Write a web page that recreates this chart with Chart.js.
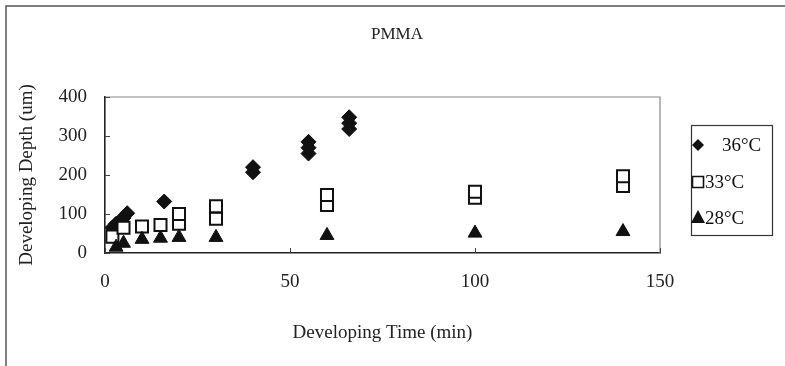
<!DOCTYPE html>
<html><head><meta charset="utf-8">
<script src="https://cdn.jsdelivr.net/npm/chart.js@4/dist/chart.umd.min.js"></script>
<style>html,body{margin:0;padding:0;background:#fff;}#wrap{width:785px;height:366px;}</style>
</head><body><div id="wrap"><canvas id="c" width="785" height="366"></canvas></div>
<script>
const chartTitle = 'PMMA';
const xAxisTitle = 'Developing Time (min)';
const yAxisTitle = 'Developing Depth (um)';
const seriesLabels = ['36°C', '33°C', '28°C'];
const xTicks = [0, 50, 100, 150];
const yTicks = [0, 100, 200, 300, 400];

const time36 = [2, 3, 4, 5, 6, 16, 40, 40, 55, 55, 55, 66, 66, 66];
const depth36 = [65, 75, 82, 90, 102, 132, 207, 220, 255, 270, 285, 318, 333, 348];

const time33 = [2, 5, 10, 15, 20, 20, 30, 30, 60, 60, 100, 100, 140, 140];
const depth33 = [42, 65, 68, 72, 75, 100, 88, 120, 123, 149, 142, 157, 172, 197];

const time28 = [3, 5, 10, 15, 20, 30, 60, 100, 140];
const depth28 = [15, 25, 35, 38, 40, 40, 45, 51, 55];

const toPts = (xs, ys) => xs.map((x, i) => ({x: x, y: ys[i]}));
const serif = 'Liberation Serif, Times New Roman, serif';
const ink = '#111';

const frame = {
  id: 'frame',
  beforeDraw(chart) {
    const c = chart.ctx;
    c.save(); c.fillStyle = '#fff'; c.fillRect(0, 0, chart.width, chart.height); c.restore();
  },
  afterDraw(chart) {
    const c = chart.ctx, a = chart.chartArea;
    const xs = chart.scales.x, ys = chart.scales.y;
    c.save();
    // outer frame (top + left)
    c.strokeStyle = '#555'; c.lineWidth = 1.5;
    c.beginPath(); c.moveTo(6, chart.height); c.lineTo(6, 6); c.lineTo(chart.width, 6); c.stroke();
    // chart title
    c.font = '17px ' + serif; c.fillStyle = '#222'; c.textAlign = 'center'; c.textBaseline = 'middle';
    c.fillText(chartTitle, 397, 35);
    // plot frame top + right
    c.strokeStyle = '#888'; c.lineWidth = 1.2;
    c.beginPath(); c.moveTo(a.left, a.top); c.lineTo(a.right, a.top); c.lineTo(a.right, a.bottom); c.stroke();
    // inward ticks
    c.strokeStyle = '#444'; c.lineWidth = 1;
    c.beginPath();
    yTicks.forEach(v => { const py = Math.round(ys.getPixelForValue(v)) + 0.5; c.moveTo(a.left, py); c.lineTo(a.left + 5, py); });
    xTicks.forEach(v => { const px = Math.round(xs.getPixelForValue(v)) + 0.5; c.moveTo(px, a.bottom); c.lineTo(px, a.bottom - 5); });
    c.stroke();
    // legend
    const bx = 691, by = 125, bw = 81, bh = 110;
    c.strokeStyle = '#333'; c.lineWidth = 1.2;
    c.strokeRect(bx + 0.5, by + 0.5, bw, bh);
    const rowY = [145, 182, 218];
    const textX = [722, 705, 705];
    c.font = '19px ' + serif; c.textAlign = 'left'; c.textBaseline = 'middle';
    chart.data.datasets.forEach((ds, i) => {
      const mx = 698, my = rowY[i];
      c.beginPath();
      if (ds.pointStyle === 'rectRot') {
        c.moveTo(mx, my - 6); c.lineTo(mx + 6, my); c.lineTo(mx, my + 6); c.lineTo(mx - 6, my); c.closePath();
        c.fillStyle = ds.backgroundColor; c.fill();
      } else if (ds.pointStyle === 'rect') {
        c.rect(mx - 5.5, my - 5.5, 11, 11);
        c.fillStyle = ds.backgroundColor; c.fill();
        c.strokeStyle = ds.borderColor; c.lineWidth = 1.6; c.stroke();
      } else {
        c.moveTo(mx, my - 8); c.lineTo(mx + 7, my + 5); c.lineTo(mx - 7, my + 5); c.closePath();
        c.fillStyle = ds.backgroundColor; c.fill();
      }
      c.fillStyle = '#111';
      c.fillText(ds.label, textX[i], my + 1);
    });
    c.restore();
  }
};

new Chart(document.getElementById('c'), {
  type: 'scatter',
  data: {
    datasets: [
      {label: seriesLabels[0], data: toPts(time36, depth36), pointStyle: 'rectRot', radius: 7.5,
       backgroundColor: ink, borderColor: ink, borderWidth: 1, order: 3},
      {label: seriesLabels[1], data: toPts(time33, depth33), pointStyle: 'rect', radius: 8.5,
       backgroundColor: '#fff', borderColor: ink, borderWidth: 2, order: 2},
      {label: seriesLabels[2], data: toPts(time28, depth28), pointStyle: 'triangle', radius: 8,
       backgroundColor: ink, borderColor: ink, borderWidth: 1, order: 1}
    ]
  },
  options: {
    responsive: false, animation: false, devicePixelRatio: 1,
    layout: {padding: {left: 0, right: 125, top: 97, bottom: 0}},
    plugins: {
      legend: {display: false},
      tooltip: {enabled: false},
      title: {display: false}
    },
    scales: {
      x: {
        type: 'linear', min: 0, max: 150,
        afterBuildTicks: s => { s.ticks = xTicks.map(v => ({value: v})); },
        afterFit: s => { s.height = 113; },
        ticks: {padding: 18, color: '#222', font: {family: serif, size: 19}},
        grid: {display: true, drawOnChartArea: false, drawTicks: false},
        border: {display: true, color: '#222', width: 1.6},
        title: {display: true, text: xAxisTitle, color: '#222', font: {family: serif, size: 19},
                padding: {top: 0, bottom: 22}}
      },
      y: {
        type: 'linear', min: 0, max: 400,
        afterBuildTicks: s => { s.ticks = yTicks.map(v => ({value: v})); },
        afterFit: s => { s.width = 105; },
        ticks: {padding: 18, color: '#222', font: {family: serif, size: 19}},
        grid: {display: true, drawOnChartArea: false, drawTicks: false},
        border: {display: true, color: '#222', width: 1.6},
        title: {display: true, text: yAxisTitle, color: '#222', font: {family: serif, size: 19},
                padding: {top: 16, bottom: 0}}
      }
    }
  },
  plugins: [frame]
});
</script></body></html>
